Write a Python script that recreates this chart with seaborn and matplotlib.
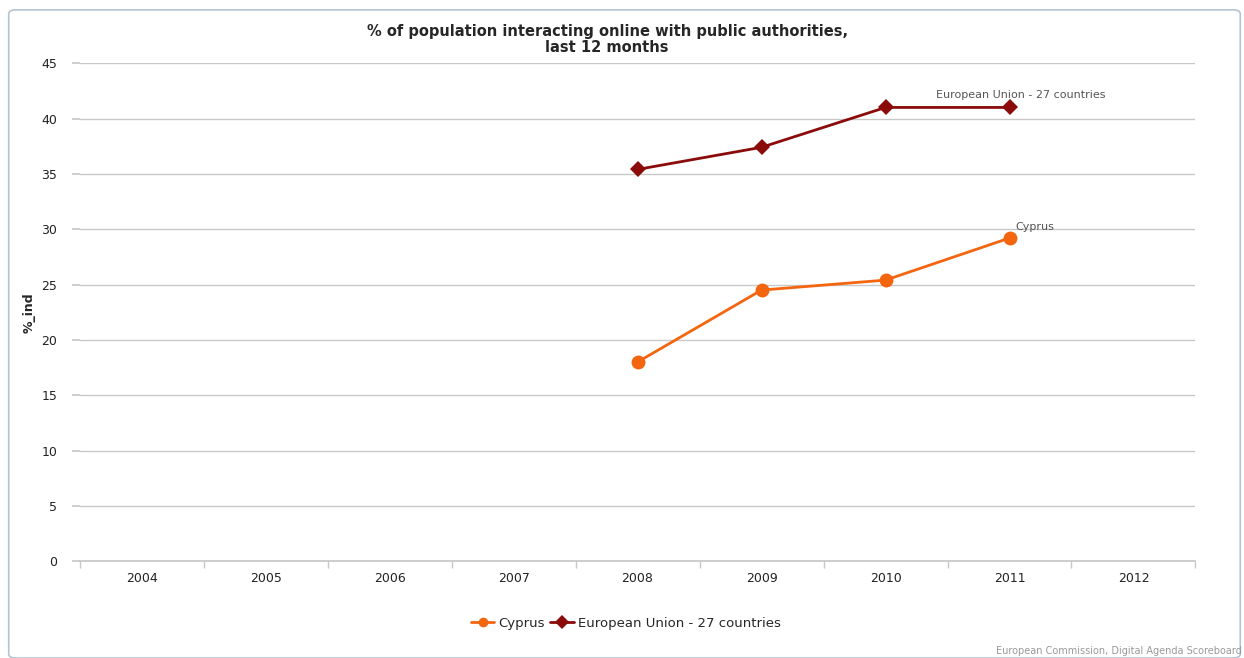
import pandas as pd
import seaborn as sns
import matplotlib.pyplot as plt
from matplotlib.lines import Line2D
from matplotlib.patches import FancyBboxPatch

# dados
anos = [2004, 2005, 2006, 2007, 2008, 2009, 2010, 2011, 2012]
anos_dados = [2008, 2009, 2010, 2011]
cyprus = [18.0, 24.5, 25.4, 29.2]
eu27 = [35.4, 37.4, 41.0, 41.0]
y_ticks = [0, 5, 10, 15, 20, 25, 30, 35, 40, 45]

df = pd.concat([
    pd.DataFrame({"ano": anos_dados, "valor": cyprus, "pais": "Cyprus"}),
    pd.DataFrame({"ano": anos_dados, "valor": eu27, "pais": "European Union - 27 countries"}),
])

sns.set_theme(style="white")
plt.rcParams["font.family"] = ["DejaVu Sans"]

cores = {"Cyprus": "#f4650f", "European Union - 27 countries": "#8b0a0a"}
marcadores = {"Cyprus": "o", "European Union - 27 countries": "D"}
tamanhos = {"Cyprus": 10, "European Union - 27 countries": 8}

fig = plt.figure(figsize=(12.44, 6.58), dpi=100)
fig.patches.append(FancyBboxPatch((0.007, 0.0), 0.99, 0.985, boxstyle="round,pad=0,rounding_size=0.006",
                                  transform=fig.transFigure, fill=False,
                                  edgecolor="#b4c3d3", linewidth=1.2))
ax = fig.add_axes([0.064, 0.147, 0.897, 0.757])

sns.lineplot(data=df, x="ano", y="valor", hue="pais", style="pais",
             palette=cores, markers=marcadores, dashes=False,
             markersize=9, markeredgewidth=0, linewidth=2, ax=ax, legend=False)
for linha in ax.get_lines():
    if linha.get_marker() == "o":
        linha.set_markersize(tamanhos["Cyprus"])
    elif linha.get_marker() == "D":
        linha.set_markersize(tamanhos["European Union - 27 countries"])

ax.set_xlim(anos[0] - 0.5, anos[-1] + 0.5)
ax.set_ylim(0, 45)
ax.set_yticks(y_ticks)
ax.set_xticks(anos)
ax.set_xticklabels([str(a) for a in anos], fontsize=9, color="#222222")
ax.set_xticks([a + 0.5 for a in [anos[0] - 1] + anos], minor=True)
ax.tick_params(axis="x", which="major", length=0, pad=8)
ax.tick_params(axis="x", which="minor", length=5, color="#c8c8c8", bottom=True)
ax.tick_params(axis="y", length=6, color="#c8c8c8", labelsize=9, labelcolor="#222222", pad=10, left=True)
ax.yaxis.grid(True, color="#c8c8c8", linewidth=1)
for lado in ["top", "right", "left"]:
    ax.spines[lado].set_visible(False)
ax.spines["bottom"].set_color("#c8c8c8")

ax.set_xlabel("")
ax.set_ylabel("%_ind", fontsize=9, fontweight="bold", labelpad=4)

fig.text(0.488, 0.964, "% of population interacting online with public authorities,\nlast 12 months",
         ha="center", va="top", fontsize=10.5, fontweight="bold", linespacing=1.15)

# rótulos no fim das séries
ax.annotate("European Union - 27 countries", (anos_dados[-1], eu27[-1]), xytext=(-53, 7),
            textcoords="offset points", fontsize=8, color="#555555")
ax.annotate("Cyprus", (anos_dados[-1], cyprus[-1]), xytext=(4, 6),
            textcoords="offset points", fontsize=8, color="#555555")

# legenda
itens = [Line2D([], [], color=cores[p], marker=marcadores[p], markersize=7, markeredgewidth=0, linewidth=2)
         for p in cores]
fig.legend(itens, list(cores), loc="center", bbox_to_anchor=(0.503, 0.053), ncol=2, frameon=False,
           fontsize=9.5, handlelength=1.8, handletextpad=0.3, columnspacing=0.4)

fig.text(0.998, 0.003, "European Commission, Digital Agenda Scoreboard", ha="right", va="bottom",
         fontsize=7, color="#999999")

fig.savefig("out.png", dpi=100)
